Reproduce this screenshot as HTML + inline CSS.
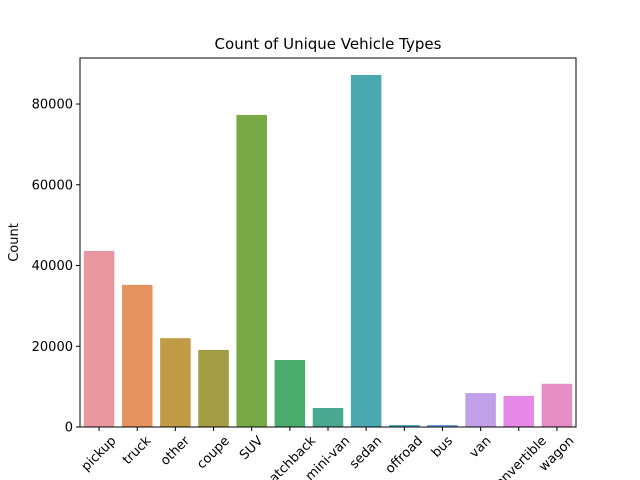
<!DOCTYPE html>
<html><head><meta charset="utf-8"><style>
body{margin:0;background:#fff;}
svg{display:block;font-family:"DejaVu Sans","Liberation Sans",sans-serif;}
</style></head><body>
<svg id="chart" width="640" height="480">
<text x="328" y="49" text-anchor="middle" font-size="15">Count of Unique Vehicle Types</text>
<text transform="translate(18,242.5) rotate(-90)" text-anchor="middle" font-size="13">Count</text>
<g id="bars"></g><g id="yticks"></g><g id="xticks"></g>
<rect x="80" y="58" width="496" height="369" fill="none" stroke="#000" stroke-width="1"/>
</svg>
<script>
const categories=["pickup","truck","other","coupe","SUV","hatchback","mini-van","sedan","offroad","bus","van","convertible","wagon"];
const counts=[43600,35200,22000,19100,77300,16600,4700,87200,500,500,8400,7700,10700];
const colors=["#e8969f","#e4935e","#c19b45","#a09d45","#79a945","#4bab6c","#48a98f","#4aa9b0","#4ba8c6","#6aa0e2","#c0a0e8","#e688e6","#e68ec4"];
const yTicks=[0,20000,40000,60000,80000];
const L=80,R=576,T=58,B=427,maxY=91400;
const svg=document.getElementById('chart');
const NS="http://www.w3.org/2000/svg";
const y=v=>B-(v/maxY)*(B-T);
const step=(R-L)/categories.length;
const x=i=>L+step*(i+0.5);
function mk(t,a,p){const e=document.createElementNS(NS,t);for(const k in a)e.setAttribute(k,a[k]);p.appendChild(e);return e;}
const gb=document.getElementById('bars'),gy=document.getElementById('yticks'),gx=document.getElementById('xticks');
categories.forEach((c,i)=>{
 const w=step*0.8;
 const r=mk('rect',{x:x(i)-w/2,y:y(counts[i]),width:w,height:B-y(counts[i]),fill:colors[i]},gb);
 
 
 mk('line',{x1:x(i),x2:x(i),y1:B,y2:B+4,stroke:'#000'},gx);
 const t=mk('text',{x:0,y:0,'font-size':13,'text-anchor':'middle','dominant-baseline':'central'},gx);
 t.textContent=c;
 
 
 const tw=t.getComputedTextLength();
 const half=(tw+14)*0.7071/2;
 t.setAttribute('transform',`translate(${x(i)},${B+7+half}) rotate(-45)`);
});
yTicks.forEach(v=>{
 mk('line',{x1:L-4,x2:L,y1:y(v),y2:y(v),stroke:'#000'},gy);
 const t=mk('text',{x:L-7,y:y(v)+4.5,'font-size':13,'text-anchor':'end'},gy);
 t.textContent=v;
 
 
});
</script>
</body></html>
